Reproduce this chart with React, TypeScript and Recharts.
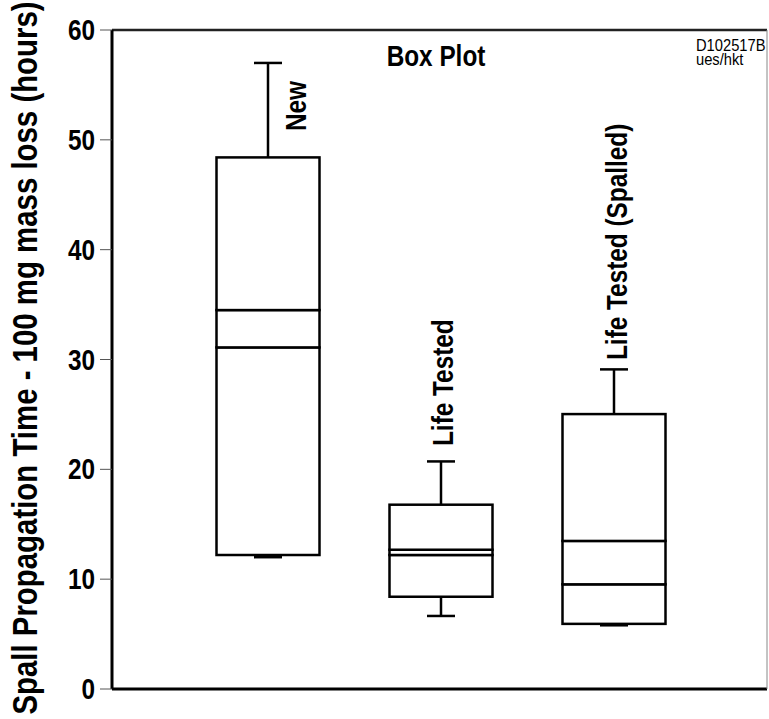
import React from 'react';
import { ComposedChart, Bar, XAxis, YAxis, Customized } from 'recharts';

const categories = ['New', 'Life Tested', 'Life Tested (Spalled)'];
const whiskerLow = [12.0, 6.65, 5.8];
const boxLow = [12.2, 8.4, 5.93];
const lineLow = [31.1, 12.2, 9.53];
const lineHigh = [34.5, 12.68, 13.48];
const boxHigh = [48.4, 16.78, 25.03];
const whiskerHigh = [57.0, 20.72, 29.1];
const yTicks = [0, 10, 20, 30, 40, 50, 60];

const rows = categories.map((name, i) => ({
  name,
  base: whiskerLow[i],
  lowWhisker: boxLow[i] - whiskerLow[i],
  boxA: lineLow[i] - boxLow[i],
  boxB: lineHigh[i] - lineLow[i],
  boxC: boxHigh[i] - lineHigh[i],
  highWhisker: whiskerHigh[i] - boxHigh[i],
}));

const FONT = '"Liberation Sans", Arial, sans-serif';
const NARROW = 0.84;
const CAP = 14;

// narrow bold text, like the original's condensed font
const NText = ({ x, y, angle = 0, size, anchor = 'start', bold = true, squeeze = NARROW, children }: any) => (
  <text
    transform={`translate(${x},${y}) rotate(${angle}) scale(${squeeze},1)`}
    textAnchor={anchor}
    fontFamily={FONT}
    fontWeight={bold ? 'bold' : 'normal'}
    fontSize={size}
    fill="#000"
  >
    {children}
  </text>
);

const Empty = () => <g />;

const BoxPart = ({ x, y, width, height }: any) => (
  <rect x={x} y={y} width={width} height={height} fill="#fff" stroke="#000" strokeWidth={2.5} />
);

const LowWhisker = ({ x, y, width, height }: any) => {
  const cx = x + width / 2;
  return (
    <g stroke="#000" strokeWidth={2.5}>
      <line x1={cx} y1={y} x2={cx} y2={y + height} />
      <line x1={cx - CAP} y1={y + height} x2={cx + CAP} y2={y + height} />
    </g>
  );
};

const HighWhisker = ({ x, y, width, height }: any) => {
  const cx = x + width / 2;
  return (
    <g stroke="#000" strokeWidth={2.5}>
      <line x1={cx} y1={y} x2={cx} y2={y + height} />
      <line x1={cx - CAP} y1={y} x2={cx + CAP} y2={y} />
    </g>
  );
};

const YTick = ({ x, y, payload }: any) => (
  <NText x={x} y={y + 10} size={29} anchor="end">{payload.value}</NText>
);

const Annotations = () => (
  <g>
    <NText x={37} y={358} angle={-90} size={35} anchor="middle">
      Spall Propagation Time - 100 mg mass loss (hours)
    </NText>
    <NText x={436} y={66} size={29} anchor="middle">Box Plot</NText>
    <NText x={696} y={51} size={16} bold={false} squeeze={0.92}>D102517B</NText>
    <NText x={696} y={65} size={16} bold={false} squeeze={0.92}>ues/hkt</NText>
    <NText x={306} y={131} angle={-90} size={29}>New</NText>
    <NText x={453} y={446} angle={-90} size={29}>Life Tested</NText>
    <NText x={627} y={360} angle={-90} size={29}>Life Tested (Spalled)</NText>
  </g>
);

const App: React.FC = () => {
  return (
    <div style={{ position: 'absolute', left: 0, top: 0, width: 769, height: 719, background: '#fff' }}>
      <ComposedChart width={769} height={719} data={rows} margin={{ top: 29, right: 1, bottom: 29, left: 0 }}>
        <XAxis
          dataKey="name"
          height={1}
          tick={false}
          tickLine={false}
          axisLine={{ stroke: '#000', strokeWidth: 3 }}
          padding={{ left: 69.5, right: 66.5 }}
        />
        <XAxis
          xAxisId="top"
          orientation="top"
          dataKey="name"
          height={1}
          tick={false}
          tickLine={false}
          axisLine={{ stroke: '#222', strokeWidth: 2.5 }}
        />
        <YAxis
          width={112}
          domain={[0, 60]}
          ticks={yTicks}
          interval={0}
          tickSize={12}
          tickMargin={5}
          tick={<YTick />}
          tickLine={{ stroke: '#555', strokeWidth: 1 }}
          axisLine={{ stroke: '#000', strokeWidth: 3 }}
        />
        <YAxis
          yAxisId="right"
          orientation="right"
          width={1}
          domain={[0, 60]}
          tick={false}
          tickLine={false}
          axisLine={{ stroke: '#888', strokeWidth: 1 }}
        />
        <Bar dataKey="base" stackId="b" barSize={103} shape={<Empty />} isAnimationActive={false} />
        <Bar dataKey="lowWhisker" stackId="b" barSize={103} shape={<LowWhisker />} isAnimationActive={false} />
        <Bar dataKey="boxA" stackId="b" barSize={103} shape={<BoxPart />} isAnimationActive={false} />
        <Bar dataKey="boxB" stackId="b" barSize={103} shape={<BoxPart />} isAnimationActive={false} />
        <Bar dataKey="boxC" stackId="b" barSize={103} shape={<BoxPart />} isAnimationActive={false} />
        <Bar dataKey="highWhisker" stackId="b" barSize={103} shape={<HighWhisker />} isAnimationActive={false} />
        <Customized component={Annotations} />
      </ComposedChart>
    </div>
  );
};

export default App;
